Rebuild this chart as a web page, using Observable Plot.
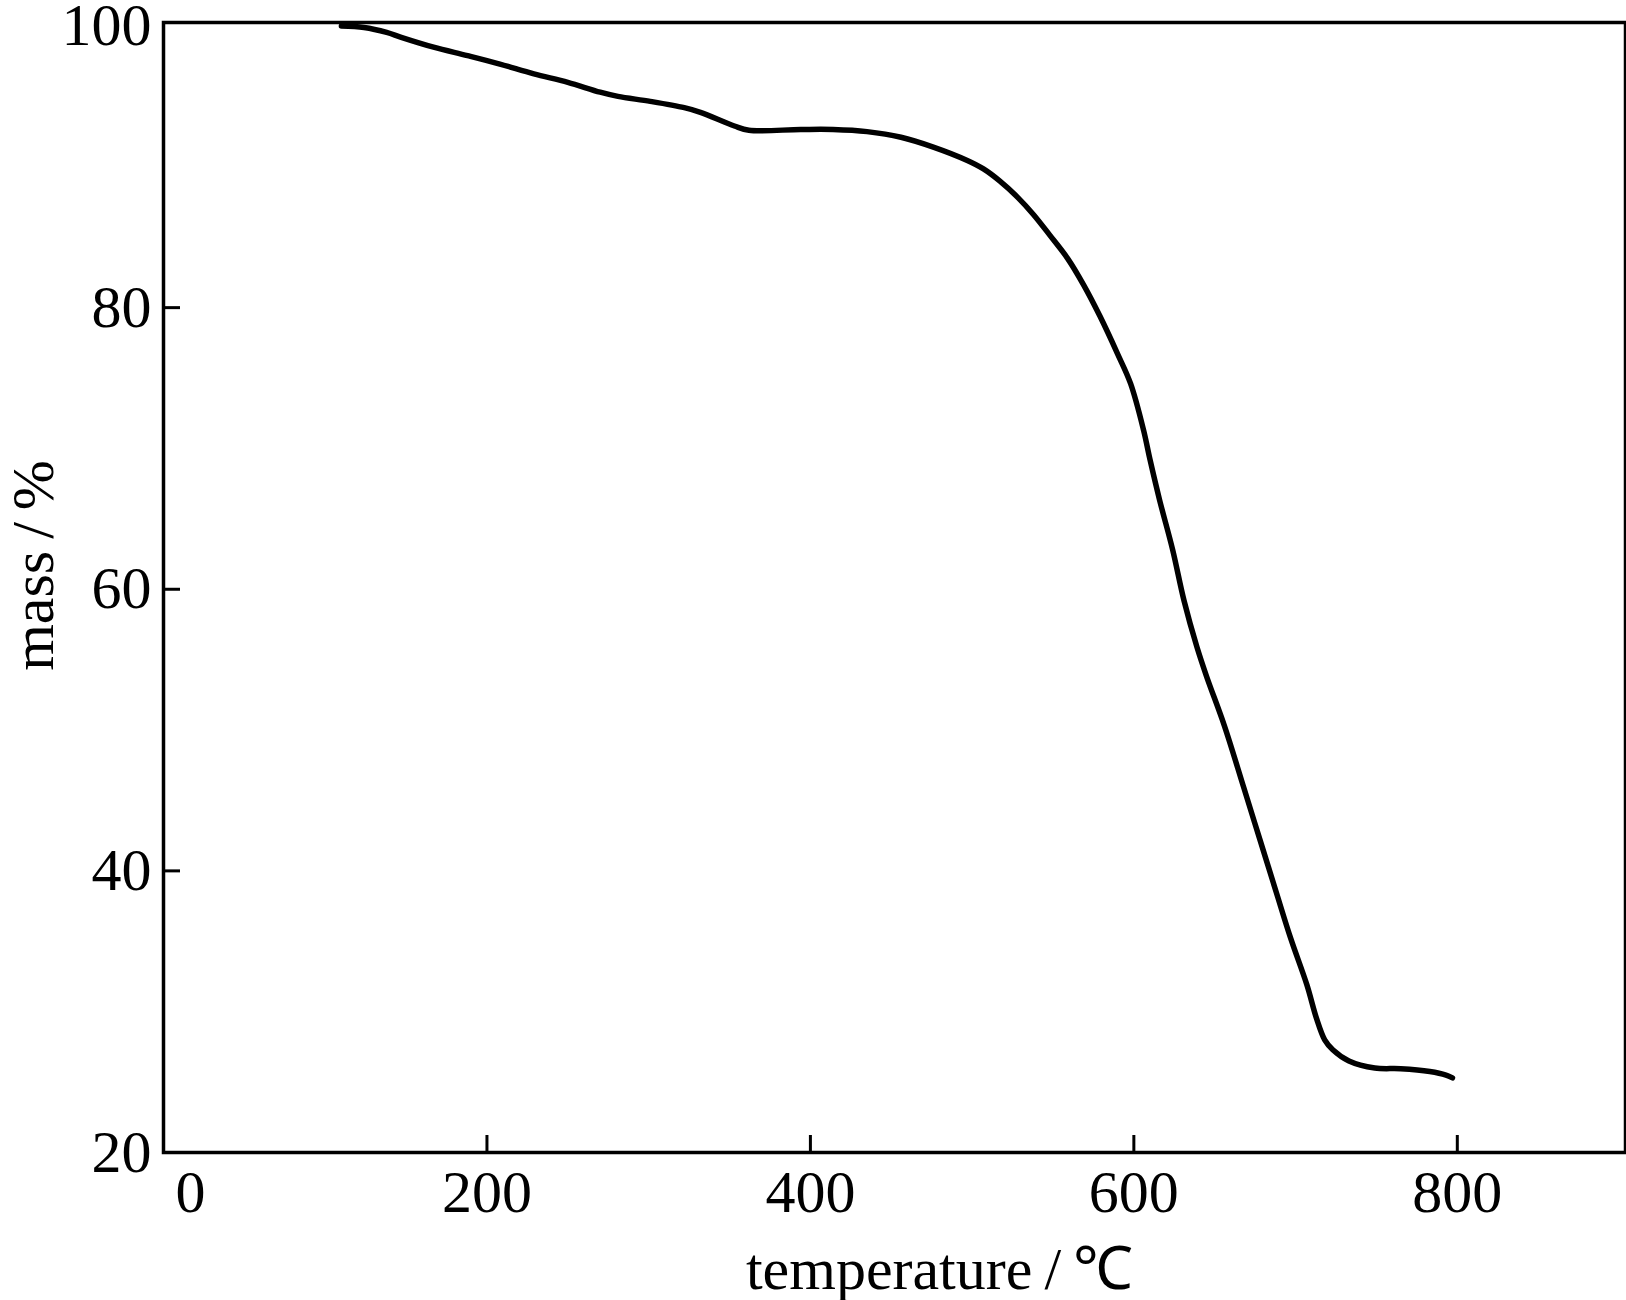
<!DOCTYPE html>
<html>
<head>
<meta charset="utf-8">
<script src="https://cdn.jsdelivr.net/npm/d3@7"></script>
<script src="https://cdn.jsdelivr.net/npm/@observablehq/plot@0.6"></script>
<style>
  html, body { margin: 0; padding: 0; background: #fff; }
</style>
</head>
<body>
<div id="chart"></div>
<script>
// TGA curve: temperature (°C) vs mass (%)
const temperature = [110, 124, 138, 147, 167, 188, 208, 229, 250, 270, 281, 301, 322, 332, 353, 362, 394, 414, 435, 456, 476, 497, 507, 517, 528, 538, 548, 559, 569, 579, 590, 598, 606, 610, 616, 624, 631, 639, 645, 656, 668, 678, 688, 697, 707, 713, 718, 723, 733, 749, 765, 783, 793, 797];
const mass = [100.0, 99.9, 99.55, 99.2, 98.5, 97.9, 97.3, 96.6, 96.0, 95.3, 95.0, 94.65, 94.2, 93.87, 92.9, 92.6, 92.65, 92.65, 92.5, 92.1, 91.4, 90.45, 89.85, 89.0, 87.85, 86.6, 85.15, 83.5, 81.6, 79.4, 76.7, 74.6, 71.3, 69.2, 66.3, 62.8, 59.2, 55.9, 53.8, 50.3, 45.9, 42.2, 38.5, 35.2, 31.9, 29.5, 28.0, 27.3, 26.5, 26.0, 25.95, 25.75, 25.5, 25.3];

const xTicksMarked = [200, 400, 600, 800];
const xTickFirst = [0];
const yTicksMarked = [40, 60, 80];
const yTicksEnds = [20, 100];
const xLabel = "temperature\u2009/\u2009\u2103";
const yLabel = "mass\u2009/\u2009%";

const data = temperature.map((t, i) => ({t, m: mass[i]}));
const FS = 60;

const chart = Plot.plot({
  width: 1626,
  height: 1300,
  marginTop: 22,
  marginBottom: 148,
  marginLeft: 163,
  marginRight: 1,
  style: {fontFamily: "'Liberation Serif', 'Times New Roman', serif", fontSize: FS + "px", background: "#fff", color: "#000"},
  x: {domain: [0, 904]},
  y: {domain: [20, 100.25]},
  marks: [
    Plot.frame({stroke: "#000", strokeWidth: 3.5}),
    Plot.axisX(xTicksMarked, {label: null, tickSize: -17, tickPadding: 34, strokeWidth: 3, fontSize: FS}),
    Plot.axisX(xTickFirst, {label: null, tickSize: 0, tickPadding: 17, dx: 27, fontSize: FS}),
    Plot.axisY(yTicksMarked, {label: null, tickSize: -17, tickPadding: 29, strokeWidth: 3, fontSize: FS}),
    Plot.axisY(yTicksEnds, {label: null, tickSize: 0, tickPadding: 12, fontSize: FS}),
    Plot.line(data, {x: "t", y: "m", stroke: "#000", strokeWidth: 5.5, curve: "catmull-rom", strokeLinecap: "round", strokeLinejoin: "round"}),
    Plot.text([xLabel], {frameAnchor: "bottom", dx: 45, dy: 136, lineAnchor: "bottom", textAnchor: "middle", fontSize: FS, fill: "#000"}),
    Plot.text([yLabel], {frameAnchor: "left", rotate: -90, dx: -111, dy: -22, lineAnchor: "bottom", textAnchor: "middle", fontSize: FS, fill: "#000"})
  ]
});
document.getElementById("chart").appendChild(chart);
</script>
</body>
</html>
